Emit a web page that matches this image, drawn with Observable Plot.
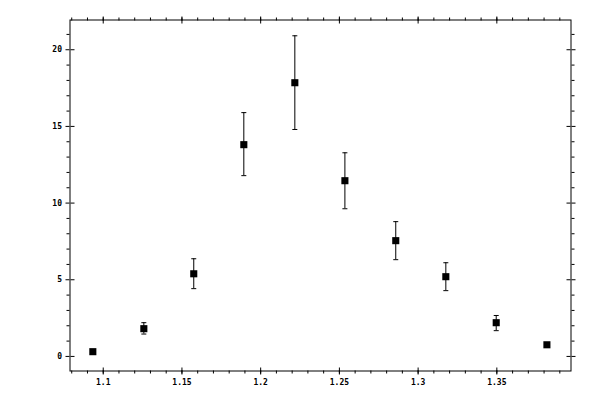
<!DOCTYPE html>
<html>
<head>
<meta charset="utf-8">
<script src="https://cdn.jsdelivr.net/npm/d3@7"></script>
<script src="https://cdn.jsdelivr.net/npm/@observablehq/plot@0.6"></script>
<style>
  html, body { margin: 0; padding: 0; background: #fff; }
  #chart svg { display: block; }
</style>
</head>
<body>
<div id="chart"></div>
<script>
const xValues = [1.0934, 1.1258, 1.1575, 1.1893, 1.2217, 1.2535, 1.2858, 1.3176, 1.3496, 1.3818];
const yValues = [0.31, 1.81, 5.39, 13.81, 17.85, 11.46, 7.55, 5.20, 2.20, 0.76];
const yLow    = [0.25, 1.46, 4.42, 11.79, 14.80, 9.63, 6.31, 4.29, 1.68, 0.70];
const yHigh   = [0.37, 2.20, 6.37, 15.90, 20.91, 13.28, 8.79, 6.11, 2.67, 0.82];

const xMajor = [1.1, 1.15, 1.2, 1.25, 1.3, 1.35];
const xMinor = d3.range(108, 140).map(i => i / 100);
const yMajor = [0, 5, 10, 15, 20];
const yMinor = d3.range(-0, 22).filter(v => v % 5 !== 0);

const data = xValues.map((x, i) => ({x, y: yValues[i], lo: yLow[i], hi: yHigh[i]}));

const cap = {
  draw(ctx, size) {
    const w = 2.5;
    ctx.moveTo(-w, 0);
    ctx.lineTo(w, 0);
  }
};

const font = "DejaVu Sans Mono, monospace";

const chart = Plot.plot({
  width: 600,
  height: 400,
  marginLeft: 69.5,
  marginRight: 29.5,
  marginTop: 19.5,
  marginBottom: 29.5,
  style: {fontFamily: font, fontSize: "8px", color: "black", background: "white"},
  x: {domain: [1.0789, 1.3971]},
  y: {domain: [-0.95, 21.94]},
  marks: [
    // bottom axis
    Plot.axisX(xMajor, {anchor: "bottom", tickSize: 4, tickPadding: 4, label: null, tickFormat: d => String(d), fontWeight: "bold"}),
    Plot.axisX(xMajor, {anchor: "top", frameAnchor: "bottom", tickSize: 4, text: null, label: null}),
    Plot.axisX(xMinor, {anchor: "bottom", tickSize: 3, text: null, label: null}),
    // top axis
    Plot.axisX(xMajor, {anchor: "top", tickSize: 4, text: null, label: null}),
    Plot.axisX(xMajor, {anchor: "bottom", frameAnchor: "top", tickSize: 4, text: null, label: null}),
    Plot.axisX(xMinor, {anchor: "top", tickSize: 3, text: null, label: null}),
    // left axis
    Plot.axisY(yMajor, {anchor: "left", tickSize: 4, tickPadding: 4, label: null, tickFormat: d => String(d), fontWeight: "bold"}),
    Plot.axisY(yMajor, {anchor: "right", frameAnchor: "left", tickSize: 4, text: null, label: null}),
    Plot.axisY(yMinor, {anchor: "left", tickSize: 3, text: null, label: null}),
    // right axis
    Plot.axisY(yMajor, {anchor: "right", tickSize: 4, text: null, label: null}),
    Plot.axisY(yMajor, {anchor: "left", frameAnchor: "right", tickSize: 4, text: null, label: null}),
    Plot.axisY(yMinor, {anchor: "right", tickSize: 3, text: null, label: null}),
    Plot.frame({stroke: "black", strokeWidth: 1}),
    // error bars
    Plot.ruleX(data, {x: "x", y1: "lo", y2: "hi", stroke: "black", strokeWidth: 1}),
    Plot.dot(data, {x: "x", y: "hi", symbol: cap, r: 3, stroke: "black", strokeWidth: 1, fill: "none"}),
    Plot.dot(data, {x: "x", y: "lo", symbol: cap, r: 3, stroke: "black", strokeWidth: 1, fill: "none"}),
    // markers
    Plot.dot(data, {x: "x", y: "y", symbol: "square", r: 4, fill: "black", stroke: "none"})
  ]
});

document.getElementById("chart").appendChild(chart);
</script>
</body>
</html>
